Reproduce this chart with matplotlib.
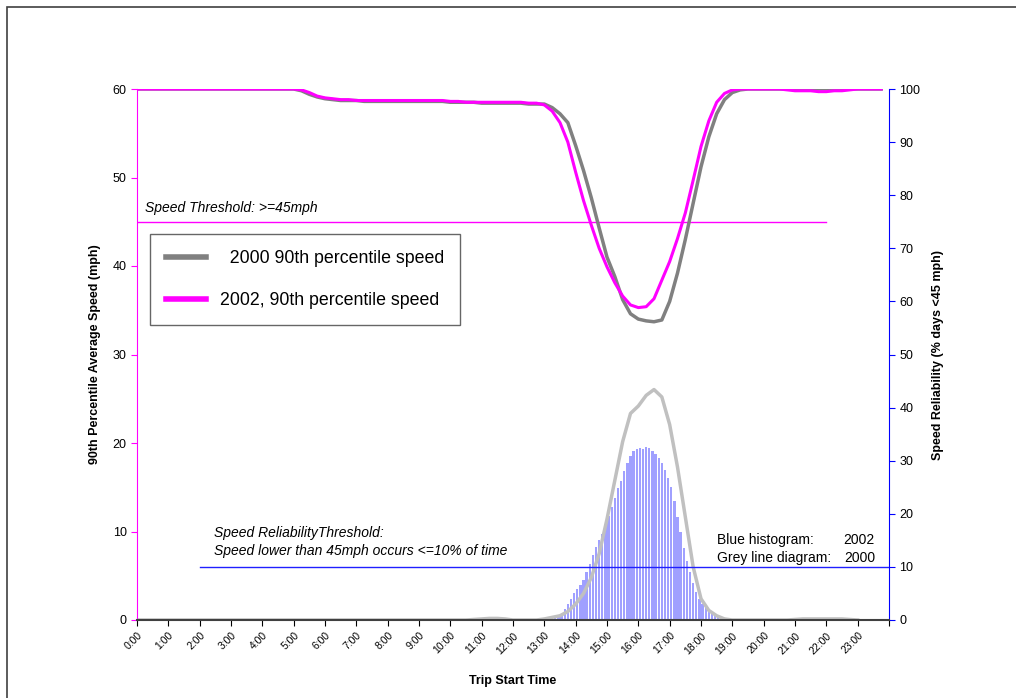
import numpy as np
import matplotlib
matplotlib.use("Agg")
import matplotlib.pyplot as plt
from matplotlib.patches import Rectangle

plt.rcParams['font.family'] = ['Liberation Sans', 'DejaVu Sans']

# 90th percentile speed, every 15 minutes from 0:00 (mph)
speed_2000 = [
	60, 60, 60, 60,  60, 60, 60, 60,  60, 60, 60, 60,  60, 60, 60, 60,  60, 60, 60, 60,
	60.0, 59.8, 59.4, 59.1,  58.9, 58.8, 58.7, 58.7,  58.7, 58.6, 58.6, 58.6,
	58.6, 58.6, 58.6, 58.6,  58.6, 58.6, 58.6, 58.6,  58.5, 58.5, 58.5, 58.5,
	58.4, 58.4, 58.4, 58.4,  58.4, 58.4, 58.3, 58.3,  58.3, 57.9, 57.2, 56.2,
	53.6, 50.8, 47.7, 44.3,  41.0, 38.8, 36.2, 34.6,  34.0, 33.8, 33.7, 33.9,
	36.0, 39.2, 43.0, 47.1,  51.2, 54.6, 57.2, 58.8,  59.6, 59.9, 60, 60,
	60, 60, 60, 60,  60, 60, 60, 60,  60, 60, 60, 60,  60, 60, 60, 60,
]
speed_2002 = [
	60, 60, 60, 60,  60, 60, 60, 60,  60, 60, 60, 60,  60, 60, 60, 60,  60, 60, 60, 60,
	60.0, 59.9, 59.6, 59.2,  59.0, 58.9, 58.8, 58.8,  58.7, 58.7, 58.7, 58.7,
	58.7, 58.7, 58.7, 58.7,  58.7, 58.7, 58.7, 58.7,  58.6, 58.6, 58.5, 58.5,
	58.5, 58.5, 58.5, 58.5,  58.5, 58.5, 58.4, 58.4,  58.2, 57.5, 56.2, 54.0,
	50.6, 47.4, 44.6, 42.0,  39.9, 38.1, 36.6, 35.6,  35.3, 35.4, 36.3, 38.4,
	40.5, 43.1, 46.0, 49.7,  53.5, 56.4, 58.5, 59.5,  59.9, 60, 60, 60,
	60, 60, 60, 59.9,  59.8, 59.8, 59.8, 59.7,  59.7, 59.8, 59.8, 59.9,  60, 60, 60, 60,
]

# 2000 speed reliability (% days < 45 mph), every 15 minutes, 0:00 - 23:00
rel_2000 = [
	0, 0, 0, 0,  0, 0, 0, 0,  0, 0, 0, 0,  0, 0, 0, 0,  0, 0, 0, 0,
	0, 0, 0, 0,  0, 0, 0, 0,  0, 0, 0, 0,  0, 0, 0, 0,  0, 0, 0, 0,
	0, 0, 0, 0.1,  0.2, 0.3, 0.3, 0.2,  0, 0, 0, 0,  0.2, 0.5, 0.8, 1.6,
	3.0, 5.0, 8.0, 12.5,  19.0, 26.3, 33.6, 38.9,  40.3, 42.3, 43.4, 42.0,
	36.8, 28.8, 19.4, 10.0,  4.0, 1.8, 0.8, 0.2,  0, 0, 0, 0,  0, 0, 0, 0,
	0.1, 0.2, 0.2, 0.2,  0.2, 0.2, 0.2, 0.1,  0,
]

# 2002 speed reliability histogram, 6 minute bins from 13:00
hist_start = 13.0
hist_2002 = [
	0.2, 0.3, 0.4, 0.6, 0.8, 1.2, 2.0, 3.0, 4.0, 5.0,
	5.8, 6.6, 7.6, 9.0, 10.5, 12.2, 13.7, 15.0, 16.2, 17.7,
	19.5, 21.3, 23.0, 24.8, 26.2, 28.0, 29.6, 30.8, 31.8, 32.2,
	32.4, 32.2, 32.5, 32.3, 31.9, 31.2, 30.5, 29.5, 28.2, 26.7,
	25.0, 22.4, 19.4, 16.5, 13.6, 11.2, 9.0, 7.0, 5.3, 4.0,
	3.0, 2.3, 1.9, 1.4, 1.0, 0.7, 0.4, 0.3, 0.2, 0.1,
]

hour_labels = ["%d:00" % h for h in range(24)]

speed_threshold = 45
rel_threshold = 10

t_speed = np.arange(len(speed_2000)) * 0.25
t_rel = np.arange(len(rel_2000)) * 0.25
t_hist = hist_start + np.arange(len(hist_2002)) * 0.1

fig = plt.figure(figsize=(10.16, 6.98), dpi=100)
fig.patches.append(Rectangle((7 / 1016, -0.1), 1.2, 1.1 - 7 / 698, transform=fig.transFigure,
	fill=False, edgecolor="#404040", linewidth=1.2))

ax = fig.add_axes([137 / 1016, 1 - 620 / 698, 752 / 1016, 531 / 698])
ax2 = ax.twinx()
ax.set_zorder(2)
ax.patch.set_visible(False)

# right axis: reliability
ax2.bar(t_hist + 0.05, hist_2002, width=0.075, color="#a0a0ff", linewidth=0, zorder=1)
ax2.plot(t_rel, rel_2000, color="#c0c0c0", linewidth=2.5, zorder=2)
ax2.plot([2, 24], [rel_threshold, rel_threshold], color="#2020ff", linewidth=1, zorder=3)
ax2.set_ylim(0, 100)
ax2.set_yticks(range(0, 101, 10))

# left axis: speed
ax.plot([0, 22], [speed_threshold, speed_threshold], color="#ff00ff", linewidth=1)
l1, = ax.plot(t_speed, speed_2000, color="#808080", linewidth=2.5, label="  2000 90th percentile speed")
l2, = ax.plot(t_speed, speed_2002, color="#ff00ff", linewidth=2.2, label="2002, 90th percentile speed")
ax.set_ylim(0, 60)
ax.set_xlim(0, 24)
ax.set_yticks(range(0, 61, 10))
ax.set_xticks(range(25))
ax.set_xticklabels(hour_labels + [""], rotation=45, ha="right", rotation_mode="anchor", fontsize=7.5)

for a in (ax, ax2):
	a.spines["top"].set_visible(False)
	a.tick_params(axis="y", labelsize=9, length=4)
ax.spines["left"].set_color("#ff00ff")
ax.spines["right"].set_visible(False)
ax.spines["bottom"].set_color("#404040")
ax.spines["bottom"].set_linewidth(1.5)
ax.tick_params(axis="y", colors="#ff00ff", labelcolor="black")
ax.tick_params(axis="x", length=4, colors="black")
ax2.spines["right"].set_color("blue")
ax2.spines["left"].set_visible(False)
ax2.spines["bottom"].set_visible(False)
ax2.tick_params(axis="y", colors="blue", labelcolor="black")

ax.set_ylabel("90th Percentile Average Speed (mph)", fontsize=9, fontweight="bold", labelpad=8)
ax2.set_ylabel("Speed Reliability (% days <45 mph)", fontsize=9, fontweight="bold", labelpad=8)
ax.set_xlabel("Trip Start Time", fontsize=9, fontweight="bold", labelpad=14)

leg = ax.legend(handles=[l1, l2], loc="center", bbox_to_anchor=(0.016, 0.552, 0.415, 0.179),
	fontsize=12.8, frameon=True, fancybox=False, handlelength=2.25, labelspacing=1.4,
	borderpad=0.9, handletextpad=0.75)
leg.get_frame().set_edgecolor("#404040")
leg.get_frame().set_linewidth(1)
for h in leg.get_lines():
	h.set_linewidth(4)

ax.text(0.25, 46.1, "Speed Threshold: >=45mph", fontsize=10, style="italic")
ax.text(2.45, 7.4, "Speed ReliabilityThreshold:\nSpeed lower than 45mph occurs <=10% of time",
	fontsize=10, style="italic", linespacing=1.35)
ax.text(18.5, 8.6, "Blue histogram:", fontsize=10)
ax.text(18.5, 6.6, "Grey line diagram:", fontsize=10)
ax.text(23.55, 8.6, "2002", fontsize=10, ha="right")
ax.text(23.55, 6.6, "2000", fontsize=10, ha="right")

fig.savefig("out.png", dpi=100)
